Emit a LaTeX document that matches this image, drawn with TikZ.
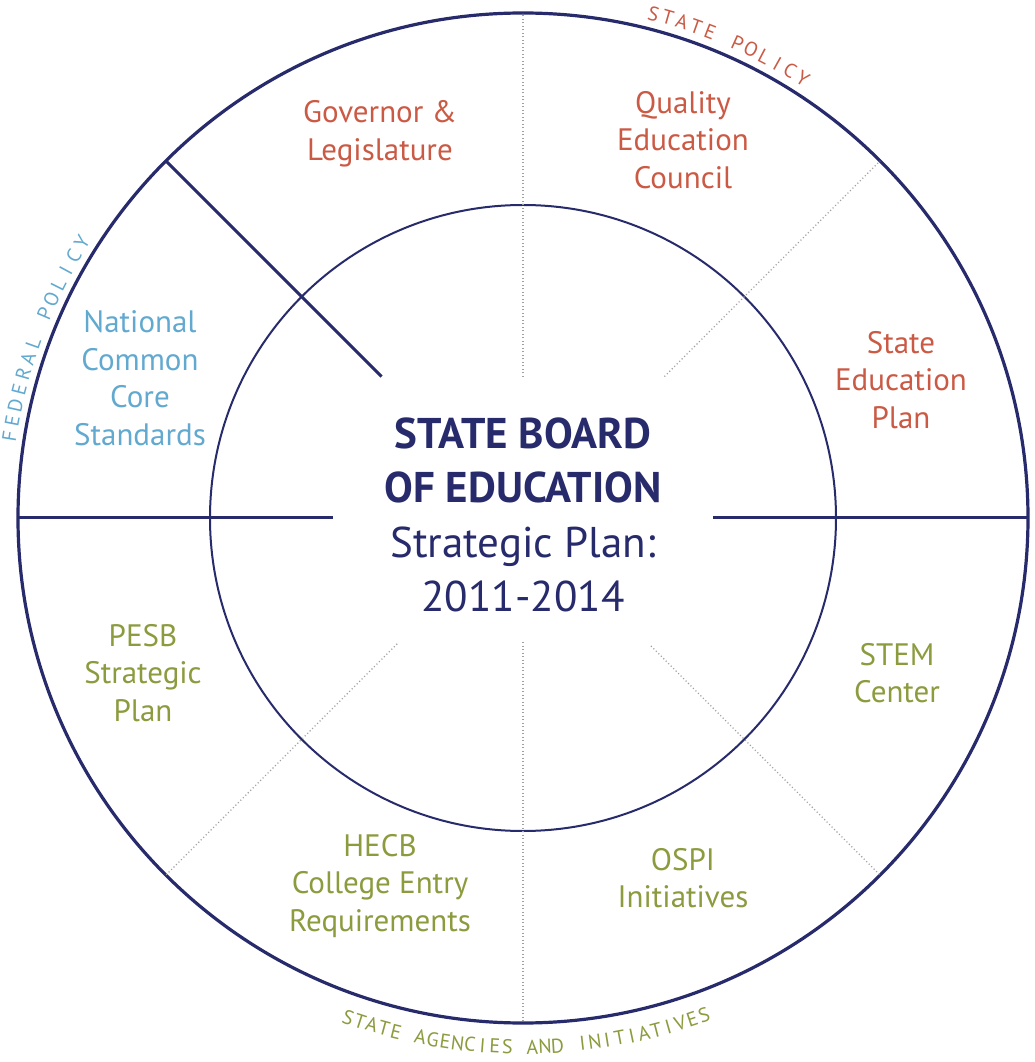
\documentclass[tikz,border=0pt]{standalone}
\usepackage{fontspec}
\setmainfont{PT Sans}
\setsansfont{PT Sans}
\definecolor{navy}{HTML}{272B6C}
\definecolor{sred}{HTML}{CB5A45}
\definecolor{sblue}{HTML}{62A9D0}
\definecolor{sgreen}{HTML}{8C9B3E}
\definecolor{dotgray}{HTML}{A0A0A0}
\newcommand\arcsel{\fontsize{20}{20}\selectfont}
\newlength\archw
% #1 name prefix, #2 colour, #3 baseline radius, #4 start angle, #5 end angle, #6 letters
\newcommand\drawarclabel[6]{%
  \gdef\arcsum{0}\gdef\arccount{0}%
  \foreach \ch in {#6}{%
    \settowidth\archw{\arcsel\ch}%
    \pgfmathsetmacro\arctmp{\arcsum+\archw}\xdef\arcsum{\arctmp}%
    \pgfmathsetmacro\arctmp{\arccount+1}\xdef\arccount{\arctmp}%
  }%
  \pgfmathsetmacro\arclen{abs(#5-#4)*pi/180*#3}%
  \pgfmathsetmacro\arctrack{(\arclen-\arcsum)/(\arccount-1)}%
  \pgfmathsetmacro\arcdir{(#5>#4)?1:-1}%
  \xdef\arccur{#4}%
  \foreach \ch [count=\i] in {#6}{%
    \settowidth\archw{\arcsel\ch}%
    \pgfmathsetmacro\arcmid{\arccur+\arcdir*(\archw/2)/#3*180/pi}%
    \pgfmathsetmacro\arcrot{\arcmid+\arcdir*90}%
    \node[anchor=base, rotate=\arcrot, inner sep=0pt, text=#2, font=\arcsel] (#1-\i) at (\arcmid:#3) {\ch};
    \pgfmathsetmacro\arctmp{\arccur+\arcdir*(\archw+\arctrack)/#3*180/pi}\xdef\arccur{\arctmp}%
  }%
}
\begin{document}
\begin{tikzpicture}[x=1pt,y=1pt,
  outerring/.style={draw=navy, line width=3.2pt},
  innerring/.style={draw=navy, line width=2pt},
  divider/.style={draw=navy, line width=3pt},
  dotline/.style={draw=dotgray, line width=1.1pt, dash pattern=on 1.1pt off 2.4pt},
  lbl/.style={align=center, font=\fontsize{31}{37.5}\selectfont, inner sep=0pt},
  centertext/.style={align=center, text=navy, inner sep=0pt, font=\fontsize{43}{54.5}\selectfont}
]
\useasboundingbox[fill=white] (-523,-544) rectangle (511,518);
\coordinate (c) at (0,0);
% rings
\draw[outerring] (c) circle[radius=505pt];
\draw[innerring] (c) circle[radius=313pt];
% solid dividers
\coordinate (hl1) at (180:505); \coordinate (hl2) at (180:190);
\coordinate (hr1) at (0:190);   \coordinate (hr2) at (0:505);
\coordinate (dg1) at (135:505); \coordinate (dg2) at (135:200);
\draw[divider] (hl1) -- (hl2);
\draw[divider] (hr1) -- (hr2);
\draw[divider] (dg1) -- (dg2);
% dotted dividers
\coordinate (vt1) at (90:141);  \coordinate (vt2) at (90:505);
\coordinate (vb1) at (270:124); \coordinate (vb2) at (270:505);
\coordinate (d45a) at (45:200);  \coordinate (d45b) at (45:505);
\coordinate (d225a) at (225:178); \coordinate (d225b) at (225:505);
\coordinate (d315a) at (315:181); \coordinate (d315b) at (315:505);
\draw[dotline] (vt1) -- (vt2);
\draw[dotline] (vb1) -- (vb2);
\draw[dotline] (d45a) -- (d45b);
\draw[dotline] (d225a) -- (d225b);
\draw[dotline] (d315a) -- (d315b);
% center
\node[centertext] (sbe) at (0,3) {\textbf{STATE BOARD}\\\textbf{OF EDUCATION}\\Strategic Plan:\\2011-2014};
% labels
\node[lbl, text=sred] (gov) at (-143,384) {Governor \&\\Legislature};
\node[lbl, text=sred] (qec) at (160,378) {Quality\\Education\\Council};
\node[lbl, text=sred] (sep) at (378,138) {State\\Education\\Plan};
\node[lbl, text=sblue] (ncc) at (-383,140) {National\\Common\\Core\\Standards};
\node[lbl, text=sgreen] (pesb) at (-380,-155) {PESB\\Strategic\\Plan};
\node[lbl, text=sgreen] (hecb) at (-143,-368) {HECB\\College Entry\\Requirements};
\node[lbl, text=sgreen] (ospi) at (160,-360) {OSPI\\Initiatives};
\node[lbl, text=sgreen] (stem) at (374,-155) {STEM\\Center};
% curved titles
\drawarclabel{sp}{sred}{514}{75.5}{57.5}{S,T,A,T,E,\ ,P,O,L,I,C,Y}
\drawarclabel{fp}{sblue}{513}{171}{148}{F,E,D,E,R,A,L,\ ,P,O,L,I,C,Y}
\drawarclabel{sa}{sgreen}{536}{250.7}{290}{S,T,A,T,E,\ ,A,G,E,N,C,I,E,S,\ ,A,N,D,\ ,I,N,I,T,I,A,T,I,V,E,S}
\end{tikzpicture}
\end{document}
